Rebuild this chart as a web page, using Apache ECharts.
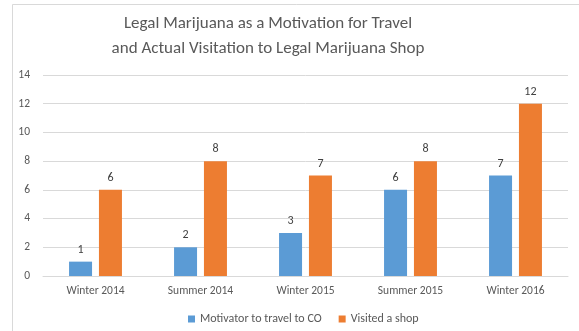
<!DOCTYPE html>
<html>
<head>
<meta charset="utf-8">
<script src="https://cdn.jsdelivr.net/npm/echarts@6/dist/echarts.min.js"></script>
<style>
  html, body { margin: 0; padding: 0; background: #fff; }
  #chart { width: 579px; height: 331px; }
</style>
</head>
<body>
<div id="chart"></div>
<script>
const categories = ['Winter 2014', 'Summer 2014', 'Winter 2015', 'Summer 2015', 'Winter 2016'];
const motivatorValues = [1, 2, 3, 6, 7];
const visitedValues = [6, 8, 7, 8, 12];
const seriesNames = ['Motivator to travel to CO', 'Visited a shop'];
const titleLines = ['Legal Marijuana as a Motivation for Travel', 'and Actual Visitation to Legal Marijuana Shop'];

const FONT = 'Carlito, "Open Sans", "Noto Sans", sans-serif';
const chart = echarts.init(document.getElementById('chart'), null, { renderer: 'canvas' });

const labelStyle = {
  show: true,
  position: 'top',
  distance: 6,
  color: '#404040',
  fontSize: 12,
  fontFamily: FONT
};

chart.setOption({
  animation: false,
  backgroundColor: '#fff',
  graphic: [
    {
      type: 'rect',
      shape: { x: 12.5, y: 4.5, width: 600, height: 340 },
      style: { fill: 'none', stroke: '#d9d9d9', lineWidth: 1 },
      silent: true,
      z: -10
    },
    {
      type: 'text',
      x: 268,
      y: 11,
      style: {
        text: titleLines.join('\n'),
        align: 'center',
        verticalAlign: 'top',
        fill: '#595959',
        fontSize: 17,
        fontFamily: FONT,
        lineHeight: 25
      },
      silent: true
    }
  ],
  legend: {
    bottom: 1,
    left: 183,
    itemWidth: 7,
    itemHeight: 7,
    itemGap: 17,
    icon: 'rect',
    textStyle: { color: '#595959', fontSize: 12, fontFamily: FONT },
    data: seriesNames
  },
  grid: { left: 43, right: 11, top: 75, bottom: 55, containLabel: false },
  xAxis: {
    type: 'category',
    data: categories,
    axisLine: { lineStyle: { color: '#d9d9d9' } },
    axisTick: { show: false },
    axisLabel: { color: '#595959', fontSize: 11.5, fontFamily: FONT, margin: 9 }
  },
  yAxis: {
    type: 'value',
    min: 0,
    max: 14,
    interval: 2,
    axisLine: { show: false },
    axisTick: { show: false },
    splitLine: { lineStyle: { color: '#d9d9d9' } },
    axisLabel: { color: '#595959', fontSize: 11.5, fontFamily: FONT, margin: 13 }
  },
  series: [
    {
      name: seriesNames[0],
      type: 'bar',
      data: motivatorValues,
      barWidth: 23,
      barGap: '30%',
      itemStyle: { color: '#5b9bd5' },
      label: labelStyle
    },
    {
      name: seriesNames[1],
      type: 'bar',
      data: visitedValues,
      barWidth: 23,
      itemStyle: { color: '#ed7d31' },
      label: labelStyle
    }
  ]
});
</script>
</body>
</html>
